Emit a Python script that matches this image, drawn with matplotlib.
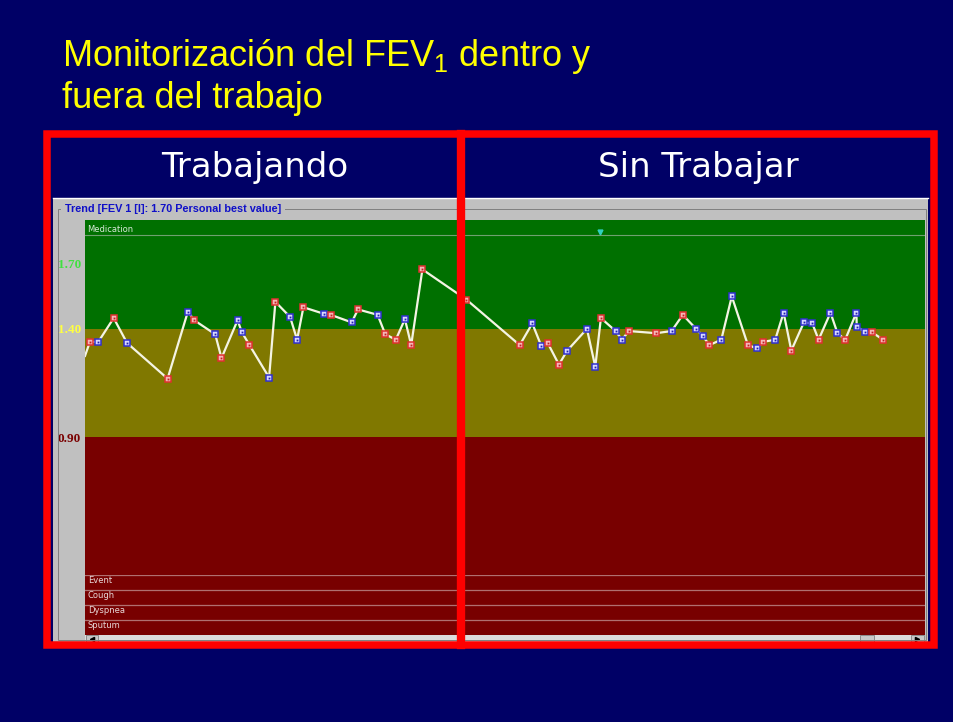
import matplotlib
matplotlib.use("Agg")
import matplotlib.pyplot as plt
from matplotlib.patches import Rectangle
import matplotlib.transforms as mtransforms

# datos (dias, FEV1 en litros)
dia_inicio = 0.0
fev1_inicio = 1.275
dias = [0.7, 1.9, 4.1, 6.0, 11.8, 14.7, 15.6, 18.6, 19.5, 21.8,
        22.4, 23.5, 26.3, 27.2, 29.3, 30.3, 31.2, 34.1, 35.1, 38.1,
        39.0, 41.8, 42.9, 44.4, 45.7, 46.6, 48.2, 54.5, 62.1, 63.9,
        65.2, 66.1, 67.7, 68.9, 71.7, 72.9, 73.7, 75.8, 76.7, 77.7,
        81.6, 83.8, 85.4, 87.3, 88.3, 89.2, 90.9, 92.4, 94.7, 96.0,
        96.9, 98.6, 99.8, 100.9, 102.7, 103.9, 104.8, 106.5, 107.5, 108.6,
        110.2, 110.25, 111.5, 112.4, 114.0]
fev1 = [1.34, 1.34, 1.45, 1.335, 1.17, 1.48, 1.44, 1.375, 1.265, 1.44,
        1.385, 1.325, 1.175, 1.525, 1.455, 1.35, 1.50, 1.47, 1.465, 1.43,
        1.49, 1.465, 1.375, 1.35, 1.445, 1.325, 1.675, 1.535, 1.325, 1.425,
        1.32, 1.335, 1.235, 1.30, 1.40, 1.225, 1.45, 1.39, 1.35, 1.39,
        1.38, 1.39, 1.465, 1.40, 1.365, 1.325, 1.35, 1.55, 1.325, 1.31,
        1.34, 1.35, 1.475, 1.30, 1.43, 1.425, 1.35, 1.475, 1.38, 1.35,
        1.475, 1.41, 1.385, 1.385, 1.35]
# r = medida roja, b = medida azul
tipo = "rbrbrbrbrb" "brbrbbrbrb" "rbrrbrrrrb" "brrbbbrbbr" "rbrbbrbbrb" "rbbrbbrbbr" "bbbrr"
medicacion_dias = [73.6]

limites = [0.90, 1.40, 1.70]
limite_colores = ['#7a0000', '#ffff40', '#40e040']
filas = ['Event', 'Cough', 'Dyspnea', 'Sputum']

W, H = 954, 722
NAVY = '#000066'

def box(x0, y0, x1, y1):
    return [x0 / W, 1 - y1 / H, (x1 - x0) / W, (y1 - y0) / H]

fig = plt.figure(figsize=(W / 100, H / 100), dpi=100, facecolor=NAVY)

# titulo
plt.rcParams['mathtext.fontset'] = 'custom'
plt.rcParams['mathtext.rm'] = 'Liberation Sans'
tfont = ['Liberation Sans', 'DejaVu Sans']
fig.text(62 / W, 1 - 66 / H, r'Monitorización del FEV$_\mathrm{1}$ dentro y',
         color='#ffff00', fontsize=26, family=tfont, va='baseline')
fig.text(62 / W, 1 - 108 / H, 'fuera del trabajo',
         color='#ffff00', fontsize=26, family=tfont, va='baseline')

# ventana gris
fig.add_artist(Rectangle((53 / W, 1 - 642 / H), 875 / W, 444 / H,
                         transform=fig.transFigure, facecolor='#c0c0c0',
                         edgecolor='none', zorder=0))
fig.add_artist(plt.Line2D([53 / W, 928 / W], [1 - 198 / H] * 2,
                          transform=fig.transFigure, color='white', lw=1))
fig.add_artist(Rectangle((58 / W, 1 - 640 / H), 868 / W, 431 / H,
                         transform=fig.transFigure, facecolor='none',
                         edgecolor='#808080', lw=0.7, zorder=0.5))
fig.text(62 / W, 1 - 209 / H, ' Trend [FEV 1 [l]: 1.70 Personal best value] ',
         color='#1010c8', fontsize=7.8, weight='bold', family='Liberation Sans',
         va='center', bbox=dict(facecolor='#c0c0c0', edgecolor='none', pad=0.5))

# grafico principal
ax = fig.add_axes(box(85, 220, 925, 575))
ytop = 1.70 + 44 / 216.25
ybot = 1.70 - 311 / 216.25
ax.set_xlim(0, 120)
ax.set_ylim(ybot, ytop)
ax.axhspan(limites[1], ytop, color='#007000', lw=0)
ax.axhspan(limites[0], limites[1], color='#807800', lw=0)
ax.axhspan(ybot, limites[0], color='#780000', lw=0)
ax.axhline(1.70 + 29 / 216.25, color='#70a070', lw=0.8)
ax.text(0.003, 0.985, 'Medication', transform=ax.transAxes, color='#d8e8d8',
        fontsize=6, va='top', family='DejaVu Sans')
for s in ax.spines.values():
    s.set_visible(False)
ax.set_xticks([])
ax.set_yticks(limites)
ax.set_yticklabels(['%.2f' % v for v in limites], family='Liberation Serif',
                   weight='bold', fontsize=9.5)
for lab, c in zip(ax.get_yticklabels(), limite_colores):
    lab.set_color(c)
ax.tick_params(axis='y', length=0, pad=3)

ax.plot([dia_inicio] + dias, [fev1_inicio] + fev1, color='#f4f4e4', lw=1.6,
        zorder=3, solid_joinstyle='round')
for d, v, t in zip(dias, fev1, tipo):
    if t == 'r':
        ax.plot(d, v, 's', ms=5, mfc='#f4b8b8', mec='#e03030', mew=1.1, zorder=4)
        ax.plot(d, v, 's', ms=1.3, color='#c02020', mew=0, zorder=5)
    else:
        ax.plot(d, v, 's', ms=5, mfc='#d8d8ff', mec='#3030d0', mew=1.1, zorder=4)
        ax.plot(d, v, 's', ms=1.3, color='#2020b0', mew=0, zorder=5)

trans = mtransforms.blended_transform_factory(ax.transData, ax.transAxes)
ax.plot(medicacion_dias, [0.966] * len(medicacion_dias), 'v', ms=3.5,
        color='#30d0c0', transform=trans, zorder=4)

# filas de eventos
ax2 = fig.add_axes(box(85, 575, 925, 635))
ax2.set_xlim(0, 120)
ax2.set_ylim(0, len(filas))
ax2.axis('off')
ax2.add_patch(Rectangle((0, 0), 120, 4, facecolor='#780000', zorder=-1))
for i, nombre in enumerate(filas):
    ytop_fila = len(filas) - i
    ax2.axhline(ytop_fila, color='#b07070', lw=0.9)
    ax2.text(0.4, ytop_fila - 0.08, nombre, color='#e8d8d8', fontsize=6,
             va='top', family='DejaVu Sans')

# barra de desplazamiento
ax3 = fig.add_axes(box(85, 635, 925, 643))
ax3.set_xlim(0, 840)
ax3.set_ylim(0, 1)
ax3.axis('off')
ax3.add_patch(Rectangle((0, 0), 840, 1, facecolor='#dcdcdc', edgecolor='none'))
for x0, w in [(1, 12), (775, 14), (826, 13)]:
    ax3.add_patch(Rectangle((x0, 0), w, 1, facecolor='#c8c8c8',
                            edgecolor='#808080', lw=0.6))
ax3.plot([7], [0.55], '<', ms=3, color='black')
ax3.plot([832], [0.55], '>', ms=3, color='black')

# marco rojo y etiquetas
fig.add_artist(Rectangle((46.5 / W, 1 - 645 / H), 887 / W, 511 / H,
                         transform=fig.transFigure, facecolor='none',
                         edgecolor='#ff0000', lw=5.4, zorder=10))
fig.add_artist(plt.Line2D([461.5 / W] * 2, [1 - 134 / H, 1 - 645 / H],
                          transform=fig.transFigure, color='#ff0000', lw=6.0,
                          zorder=10))
fig.text(255 / W, 1 - 168 / H, 'Trabajando', color='white', fontsize=24.5,
         ha='center', va='center', family='DejaVu Sans')
fig.text(698 / W, 1 - 168 / H, 'Sin Trabajar', color='white', fontsize=24.5,
         ha='center', va='center', family='DejaVu Sans')

fig.savefig('out.png', dpi=100, facecolor=NAVY)
